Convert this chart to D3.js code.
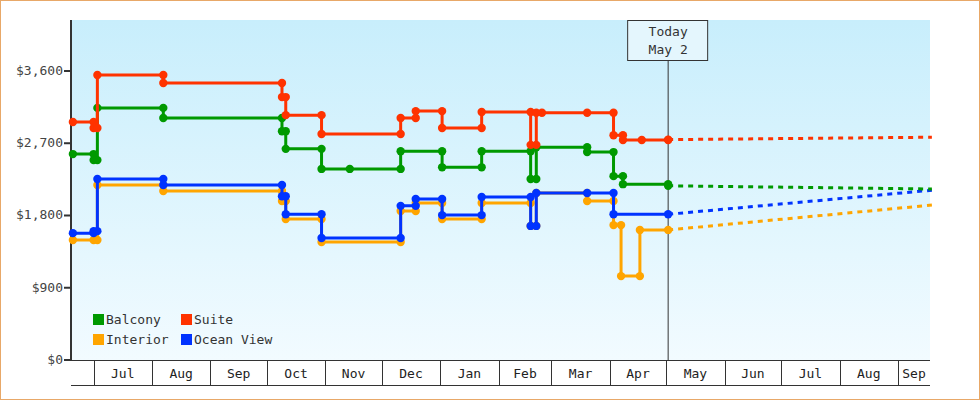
<!DOCTYPE html>
<html><head><meta charset="utf-8">
<script src="https://cdn.jsdelivr.net/npm/d3@7"></script>
<style>
body{margin:0;background:#fff}
svg{display:block;font-family:"DejaVu Sans Mono",monospace}
</style></head><body>
<script>
const w = 980, h = 400;
// price history, step-after [date, price]
const balcony = [["2022-06-20",2565],["2022-07-01",2490],["2022-07-03",3140],["2022-08-07",3015],["2022-10-09",2850],["2022-10-11",2630],["2022-10-30",2380],["2022-11-14",2380],["2022-12-11",2600],["2023-01-02",2400],["2023-01-23",2600],["2023-02-18",2255],["2023-02-21",2650],["2023-03-20",2590],["2023-04-03",2290],["2023-04-08",2190],["2023-05-02",2170]];
const suite = [["2022-06-20",2964],["2022-07-01",2890],["2022-07-03",3550],["2022-08-07",3450],["2022-10-09",3275],["2022-10-11",3050],["2022-10-30",2815],["2022-12-11",3015],["2022-12-19",3100],["2023-01-02",2890],["2023-01-23",3090],["2023-02-18",2680],["2023-02-21",3080],["2023-02-24",3080],["2023-03-20",3080],["2023-04-03",2800],["2023-04-08",2740],["2023-04-18",2740],["2023-05-02",2745]];
const interior = [["2022-06-20",1495],["2022-07-01",1495],["2022-07-03",2180],["2022-08-07",2105],["2022-10-09",1980],["2022-10-11",1755],["2022-10-30",1470],["2022-12-11",1855],["2022-12-19",1955],["2023-01-02",1755],["2023-01-23",1955],["2023-02-18",1670],["2023-02-21",2080],["2023-03-20",1980],["2023-04-03",1680],["2023-04-07",1045],["2023-04-17",1620],["2023-05-02",1620]];
const oceanView = [["2022-06-20",1580],["2022-07-01",1605],["2022-07-03",2255],["2022-08-07",2180],["2022-10-09",2040],["2022-10-11",1815],["2022-10-30",1520],["2022-12-11",1920],["2022-12-19",2005],["2023-01-02",1805],["2023-01-23",2030],["2023-02-18",1670],["2023-02-21",2080],["2023-03-20",2080],["2023-04-03",1815],["2023-05-02",1815]];
// forecast (dotted)
const balconyFc = [["2023-05-02",2170],["2023-09-19",2130]];
const suiteFc = [["2023-05-02",2745],["2023-09-19",2775]];
const interiorFc = [["2023-05-02",1620],["2023-09-19",1930]];
const oceanViewFc = [["2023-05-02",1815],["2023-09-19",2115]];
const yTicks = [0, 900, 1800, 2700, 3600];
const months = ["2022-06-01","2022-07-01","2022-08-01","2022-09-01","2022-10-01","2022-11-01","2022-12-01","2023-01-01","2023-02-01","2023-03-01","2023-04-01","2023-05-01","2023-06-01","2023-07-01","2023-08-01","2023-09-01","2023-10-01"];
const today = "2023-05-02";

const series = [
  {name:"Balcony", color:"#009900", data:balcony, fc:balconyFc},
  {name:"Suite", color:"#ff3300", data:suite, fc:suiteFc},
  {name:"Interior", color:"#ffa500", data:interior, fc:interiorFc},
  {name:"Ocean View", color:"#0033ff", data:oceanView, fc:oceanViewFc}
];
const drawOrder = [series[2], series[3], series[0], series[1]];

const parse = d3.timeParse("%Y-%m-%d");
const x0 = 71, x1 = 930, yTop = 20, yBot = 360;
const x = d3.scaleTime().domain([parse("2022-06-19"), parse("2023-09-18")]).range([x0, x1]);
const y = d3.scaleLinear().domain([0, 4235]).range([yBot, yTop]);

const svg = d3.select("body").append("svg").attr("width", w).attr("height", h);
svg.append("rect").attr("x",0.5).attr("y",0.5).attr("width",w-1).attr("height",h-1)
   .attr("fill","#fff").attr("stroke","#e8a868");

const grad = svg.append("defs").append("linearGradient").attr("id","bg")
   .attr("x1",0).attr("y1",0).attr("x2",0).attr("y2",1);
grad.append("stop").attr("offset","0%").attr("stop-color","#c8eefc");
grad.append("stop").attr("offset","100%").attr("stop-color","#f2fbff");
svg.append("rect").attr("x",x0).attr("y",yTop).attr("width",x1-x0).attr("height",yBot-yTop).attr("fill","url(#bg)");

// y axis
svg.append("line").attr("x1",x0).attr("x2",x0).attr("y1",yTop).attr("y2",yBot).attr("stroke","#333").attr("stroke-width",2);
svg.selectAll(".yt").data(yTicks).enter().append("line")
   .attr("x1",x0-7).attr("x2",x0).attr("y1",d=>y(d)).attr("y2",d=>y(d)).attr("stroke","#333").attr("stroke-width",2);
svg.selectAll(".yl").data(yTicks).enter().append("text")
   .attr("x",x0-8).attr("y",d=>y(d)+4).attr("text-anchor","end").attr("font-size",13).attr("fill","#444")
   .text(d=>"$"+d3.format(",")(d));

// x axis
svg.append("line").attr("x1",x0).attr("x2",x1).attr("y1",yBot+0.5).attr("y2",yBot+0.5).attr("stroke","#333");
svg.append("line").attr("x1",x0).attr("x2",x1).attr("y1",385.5).attr("y2",385.5).attr("stroke","#333");
const mDates = months.map(parse);
svg.selectAll(".xt").data(mDates.filter(d=>x(d)>x0 && x(d)<x1)).enter().append("line")
   .attr("x1",d=>Math.round(x(d))+0.5).attr("x2",d=>Math.round(x(d))+0.5).attr("y1",yBot).attr("y2",385).attr("stroke","#333");
const mids = [];
for (let i = 0; i < mDates.length-1; i++) {
  const a = Math.max(x0, x(mDates[i])), b = Math.min(x1, x(mDates[i+1]));
  if (b - a > 30) mids.push([(a+b)/2, d3.timeFormat("%b")(mDates[i])]);
}
svg.selectAll(".xl").data(mids).enter().append("text")
   .attr("x",d=>d[0]).attr("y",378).attr("text-anchor","middle").attr("font-size",13).attr("fill","#222").text(d=>d[1]);

// today marker
const tx = x(parse(today));
svg.append("line").attr("x1",tx).attr("x2",tx).attr("y1",60).attr("y2",yBot).attr("stroke","#333");
svg.append("rect").attr("x",tx-40.5).attr("y",20.5).attr("width",80).attr("height",40).attr("fill","#e4f6fd").attr("stroke","#333");
svg.append("text").attr("x",tx).attr("y",36).attr("text-anchor","middle").attr("font-size",13).attr("fill","#333").text("Today");
svg.append("text").attr("x",tx).attr("y",54).attr("text-anchor","middle").attr("font-size",13).attr("fill","#333").text(d3.timeFormat("%b %-d")(parse(today)));

const line = d3.line().x(d=>x(parse(d[0]))).y(d=>y(d[1]));
const stepLine = d3.line().curve(d3.curveStepAfter).x(d=>x(parse(d[0]))).y(d=>y(d[1]));

drawOrder.forEach(s => {
  svg.append("path").datum(s.fc).attr("d",line).attr("fill","none")
     .attr("stroke",s.color).attr("stroke-width",3).attr("stroke-dasharray","5,5");
  svg.append("path").datum(s.data).attr("d",stepLine).attr("fill","none")
     .attr("stroke",s.color).attr("stroke-width",3);
  const pts = [];
  s.data.forEach((d,i) => {
    if (i > 0 && s.data[i-1][1] !== d[1]) pts.push([d[0], s.data[i-1][1]]);
    pts.push(d);
  });
  svg.append("g").selectAll("path").data(pts).enter().append("path")
     .attr("d", d3.symbol().type(d3.symbolCircle).size(55))
     .attr("transform", d=>`translate(${x(parse(d[0]))},${y(d[1])})`)
     .attr("fill", s.color);
});

// legend
const leg = [[93,314,series[0]],[181,314,series[1]],[93,334,series[2]],[181,334,series[3]]];
leg.forEach(([lx,ly,s]) => {
  svg.append("rect").attr("x",lx).attr("y",ly).attr("width",11).attr("height",11).attr("fill",s.color);
  svg.append("text").attr("x",lx+13).attr("y",ly+10).attr("font-size",13).attr("fill","#333").text(s.name);
});
</script>
</body></html>
